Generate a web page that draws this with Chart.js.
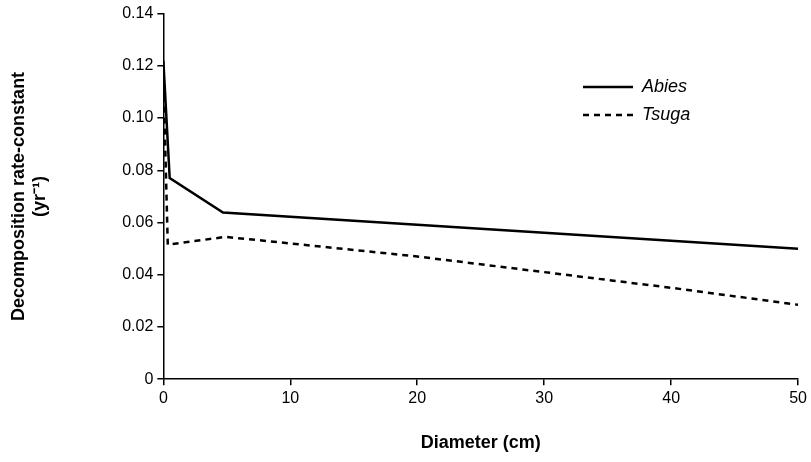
<!DOCTYPE html>
<html><head>
<script src="https://cdn.jsdelivr.net/npm/chart.js@4"></script>
<style>body{margin:0;background:#fff}</style>
</head><body><canvas id="chart" width="811" height="462"></canvas>
<script>
const seriesNames = ['Abies', 'Tsuga'];
const abiesX = [0, 0.5, 4.7, 50];
const abiesY = [0.122, 0.077, 0.0638, 0.050];
const tsugaX = [0, 0.35, 4.9, 10, 20, 30, 40, 50];
const tsugaY = [0.117, 0.0515, 0.0545, 0.052, 0.047, 0.041, 0.035, 0.0285];

function pts(xs, ys) {
    let out = [];
    for (let i = 0; i < xs.length; i++) out.push({x: xs[i], y: ys[i]});
    return out;
}

const legendPlugin = {
    id: 'inlineLegend',
    afterDraw(chart) {
        const ctx = chart.ctx;
        const rows = [[583, 87, []], [583, 115, [6, 5]]];
        ctx.save();
        for (let i = 0; i < rows.length; i++) {
            let [x, y, dash] = rows[i];
            ctx.beginPath();
            ctx.setLineDash(dash);
            ctx.lineWidth = 2.5;
            ctx.strokeStyle = '#000';
            ctx.moveTo(x, y);
            ctx.lineTo(x + 50, y);
            ctx.stroke();
            ctx.setLineDash([]);
            ctx.fillStyle = '#000';
            ctx.font = 'italic 18px "Liberation Sans"';
            ctx.textBaseline = 'middle';
            ctx.fillText(seriesNames[i], x + 59, y);
        }
        ctx.restore();
    }
};

const gridOpts = {display: true, drawOnChartArea: false, drawTicks: true, tickLength: 6, color: '#000', lineWidth: 1.5};

const ctx = document.getElementById('chart').getContext('2d');
new Chart(ctx, {
    type: 'scatter',
    data: {
        datasets: [{
            label: seriesNames[0],
            data: pts(abiesX, abiesY),
            showLine: true,
            borderColor: '#000',
            borderWidth: 2.5,
            pointRadius: 0
        }, {
            label: seriesNames[1],
            data: pts(tsugaX, tsugaY),
            showLine: true,
            borderColor: '#000',
            borderWidth: 2.5,
            borderDash: [6, 5],
            pointRadius: 0
        }]
    },
    plugins: [legendPlugin],
    options: {
        responsive: false,
        animation: false,
        layout: {padding: {top: 8, right: 12, bottom: 4, left: 4}},
        plugins: {legend: {display: false}, tooltip: {enabled: false}},
        scales: {
            x: {
                type: 'linear', min: 0, max: 50,
                ticks: {stepSize: 10, color: '#000', font: {family: 'Liberation Sans', size: 16}, padding: 4},
                grid: gridOpts,
                border: {color: '#000', width: 1.5},
                title: {display: true, text: 'Diameter (cm)', color: '#000', font: {family: 'Liberation Sans', size: 18, weight: 'bold'}, padding: {top: 20}}
            },
            y: {
                min: 0, max: 0.14,
                ticks: {stepSize: 0.02, color: '#000', font: {family: 'Liberation Sans', size: 16}, padding: 4,
                    callback: v => v === 0 ? '0' : v.toFixed(2)},
                grid: gridOpts,
                border: {color: '#000', width: 1.5},
                title: {display: true, text: ['Decomposition rate-constant', '(yr\u207B\u00B9)'], color: '#000', font: {family: 'Liberation Sans', size: 18, weight: 'bold'}, lineHeight: 1.45, padding: {bottom: 67}}
            }
        }
    }
});
</script>
</body></html>
